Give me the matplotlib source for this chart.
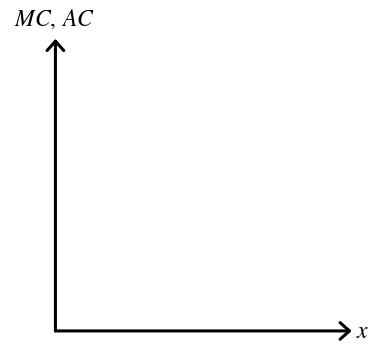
import matplotlib.pyplot as plt

# axis labels (empty economics diagram)
x_label = r'$x$'
y_label = r'$MC,\,AC$'

plt.rcParams['mathtext.fontset'] = 'stix'

fig = plt.figure(figsize=(3.77, 3.44), dpi=100)
ax = fig.add_axes([0.147, 0.038, 0.786, 0.849])
ax.set_xlim(0, 1)
ax.set_ylim(0, 1)
ax.axis('off')

arrow = dict(arrowstyle='->,head_length=0.45,head_width=0.4', lw=2.2, color='black',
             shrinkA=0, shrinkB=0, mutation_scale=15)
ax.annotate('', xy=(1, 0), xytext=(0, 0), xycoords='axes fraction', arrowprops=arrow)
ax.annotate('', xy=(0, 1), xytext=(0, 0), xycoords='axes fraction', arrowprops=arrow)

ax.text(1.037, 0, x_label, transform=ax.transAxes, ha='center', va='center', fontsize=17)
ax.text(-0.005, 1.068, y_label, transform=ax.transAxes, ha='center', va='center', fontsize=17)

fig.savefig('out.png', dpi=100, facecolor='white')
